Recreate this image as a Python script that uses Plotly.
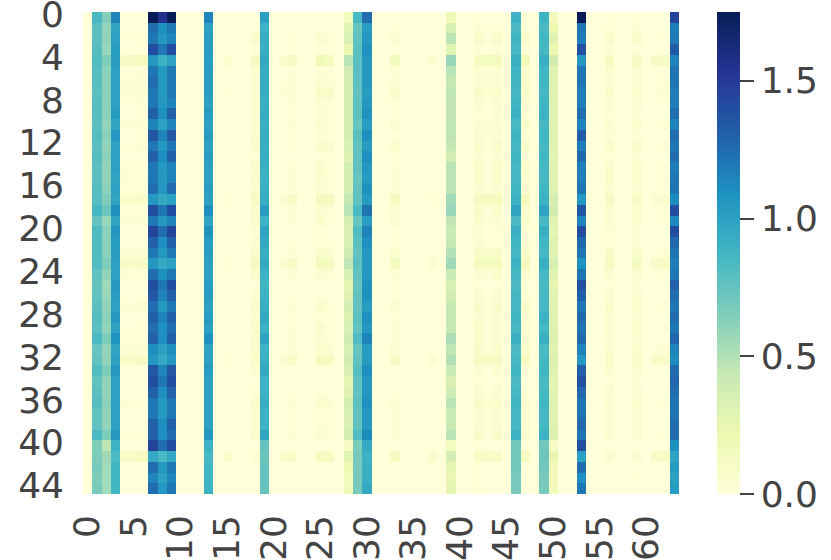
import plotly.graph_objects as go

# heatmap size
n_rows = 45
n_cols = 64

x_ticks = [0, 5, 10, 15, 20, 25, 30, 35, 40, 45, 50, 55, 60]
y_ticks = [0, 4, 8, 12, 16, 20, 24, 28, 32, 36, 40, 44]
cbar_ticks = [0.0, 0.5, 1.0, 1.5]

# values, one list per column (top row first), columns not listed are ~0
col_01 = [.85,.78,.78,.80,.82,.80,.80,.78,.80,.80,.78,.80,.78,.80,.78,.78,.80,.80,.86,.75,.83,.82,.82,.82,.77,.75,.76,.78,.80,.78,.84,.74,.76,.82,.76,.78,.80,.76,.76,.84,.66,.66,.68,.66,.68]
col_02 = [.64,.60,.60,.58,.66,.62,.62,.62,.62,.62,.60,.62,.60,.62,.60,.60,.62,.66,.72,.58,.62,.62,.62,.66,.60,.56,.58,.60,.62,.60,.66,.60,.60,.66,.60,.60,.62,.60,.60,.66,.46,.56,.55,.55,.55]
col_03 = [1.15,.98,1.0,1.03,1.02,1.0,1.0,1.0,1.0,1.03,.98,1.05,1.0,1.0,1.0,.98,1.0,.98,1.10,.98,1.06,1.03,1.02,1.0,1.0,1.05,1.02,1.0,1.05,1.0,1.08,.98,1.0,1.05,1.0,1.0,1.0,1.0,1.0,1.05,.90,.84,.87,.87,.87]
col_04 = [0,0,.02,0,.10,.01,.02,.04,.01,0,.02,0,.02,0,.02,.02,.01,.07,.01,.03,0,0,.04,.09,.02,0,0,.03,0,.01,.01,.03,.09,0,0,0,.03,0,0,.01,0,.10,0,0,0]
col_05 = [0,0,.02,0,.12,.01,.02,.04,.01,0,.02,0,.02,0,.01,.01,.01,.07,.01,.02,0,0,.03,.09,.01,0,0,.02,0,.01,.01,.04,.09,0,0,0,.01,0,0,.01,0,.10,0,0,0]
col_06 = [0,0,.03,0,.15,.02,.03,.05,.02,.01,.03,.01,.04,0,.03,.02,.02,.08,.02,.04,0,.01,.05,.11,.03,0,0,.04,0,.03,.02,.05,.12,0,0,0,.02,0,0,.01,0,.13,0,0,0]
col_07 = [1.75,1.25,1.20,1.40,1.05,1.20,1.25,1.20,1.20,1.30,1.15,1.35,1.20,1.30,1.20,1.20,1.25,1.05,1.40,1.20,1.45,1.30,1.20,1.05,1.25,1.40,1.35,1.25,1.30,1.25,1.30,1.10,1.05,1.35,1.40,1.30,1.20,1.20,1.30,1.30,1.45,.95,1.25,1.15,1.25]
col_08 = [1.55,1.10,1.05,1.20,.90,1.05,1.05,1.05,1.05,1.10,1.0,1.15,1.05,1.10,1.05,1.05,1.05,.95,1.20,1.05,1.25,1.10,1.05,.95,1.10,1.20,1.15,1.05,1.15,1.10,1.10,1.0,.95,1.15,1.20,1.10,1.05,1.05,1.10,1.10,1.25,.85,1.05,1.0,1.05]
col_09 = [1.75,1.20,1.15,1.40,1.0,1.20,1.20,1.20,1.15,1.30,1.15,1.35,1.20,1.30,1.15,1.15,1.25,1.0,1.40,1.15,1.45,1.30,1.20,1.0,1.20,1.40,1.30,1.20,1.30,1.25,1.30,1.10,1.05,1.35,1.40,1.30,1.20,1.20,1.30,1.25,1.40,.95,1.20,1.15,1.20]
col_13 = [1.15,1.0,1.02,1.02,1.03,1.02,1.02,1.02,1.0,1.03,1.0,1.03,1.0,1.02,1.0,1.0,1.02,1.0,1.10,.98,1.08,1.03,1.02,1.0,1.0,1.03,1.02,1.0,1.03,1.0,1.08,.98,1.0,1.03,1.0,1.0,1.0,1.0,1.0,1.05,.90,.85,.88,.88,.90]
col_15 = [0,0,0,0,.06,0,0,.01,0,0,0,0,0,0,0,0,0,.03,0,0,0,0,0,.03,0,0,0,0,0,0,0,0,.03,0,0,0,0,0,0,0,0,.07,0,0,0]
col_18 = [0,.02,.08,.02,.13,.06,.06,.06,.06,.06,.06,.06,.08,.03,.08,.07,.06,.11,.07,.08,.02,.05,.08,.13,.07,.01,.04,.08,.06,.08,.07,.07,.09,.04,.01,.03,.07,.06,.06,.07,0,.04,0,0,0]
col_19 = [1.0,.90,.93,.92,.95,.93,.93,.93,.92,.93,.92,.93,.92,.93,.92,.90,.92,.93,1.02,.90,.98,.95,.92,.95,.90,.88,.90,.92,.95,.90,.98,.90,.92,.95,.90,.90,.93,.90,.90,.97,.75,.73,.75,.75,.75]
col_21 = [0,0,0,0,.07,0,.01,.02,0,0,0,0,0,0,0,0,0,.05,0,0,0,0,0,.06,0,0,0,0,0,0,0,0,.05,0,0,0,0,0,0,0,0,.07,0,0,0]
col_22 = [0,0,.03,0,.12,.02,.02,.05,.02,.01,.03,.01,.02,0,.02,.02,.02,.10,.02,.03,0,.01,.03,.11,.02,0,0,.03,.01,.02,.02,.04,.10,0,0,.01,.03,.01,.01,.02,0,.09,0,0,0]
col_25 = [0,.01,.06,.01,.18,.03,.05,.10,.05,.03,.06,.03,.08,.02,.07,.06,.05,.15,.06,.07,.01,.03,.09,.16,.05,.01,.01,.07,.03,.07,.05,.06,.14,.02,0,.02,.07,.03,.03,.05,0,.14,0,0,0]
col_26 = [0,0,.03,0,.14,.02,.03,.08,.02,.01,.03,.01,.05,.01,.03,.03,.02,.13,.03,.02,0,.01,.06,.13,.02,0,0,.03,.01,.02,.02,.04,.12,0,0,0,.04,.01,.01,.02,0,.12,0,0,0]
col_28 = [.15,.28,.34,.23,.48,.38,.36,.36,.36,.36,.37,.37,.34,.30,.37,.37,.37,.44,.48,.36,.33,.34,.40,.46,.35,.26,.30,.36,.32,.34,.40,.35,.38,.33,.26,.30,.37,.34,.33,.37,.12,.28,.20,.17,.17]
col_29 = [.85,.74,.76,.78,.78,.78,.78,.76,.78,.78,.74,.78,.76,.76,.76,.74,.76,.76,.84,.74,.82,.78,.76,.78,.76,.74,.76,.76,.78,.76,.82,.74,.76,.80,.76,.76,.78,.76,.76,.82,.66,.68,.68,.68,.68]
col_30 = [1.25,1.02,1.05,1.08,1.05,1.05,1.05,1.03,1.05,1.08,1.02,1.10,1.03,1.10,1.05,1.03,1.08,1.03,1.22,1.02,1.15,1.08,1.05,1.05,1.05,1.08,1.08,1.03,1.08,1.05,1.15,1.03,1.03,1.10,1.05,1.05,1.08,1.05,1.05,1.12,.95,.90,.92,.92,.95]
col_33 = [0,.01,.05,0,.15,.03,.04,.07,.03,.01,.05,.01,.06,.01,.03,.03,.03,.13,.04,.05,.01,.01,.06,.14,.03,.01,.01,.05,.01,.04,.03,.05,.11,0,0,.01,.04,.02,.02,.02,0,.13,0,0,0]
col_37 = [0,0,0,0,.06,0,0,.01,0,0,0,0,0,0,0,0,0,.03,0,0,0,0,.01,.05,0,0,0,0,0,0,0,0,.05,0,0,0,0,0,0,0,0,.07,0,0,0]
col_39 = [.18,.34,.47,.28,.58,.48,.44,.46,.45,.45,.46,.46,.44,.38,.47,.47,.47,.55,.58,.45,.42,.44,.50,.56,.43,.34,.38,.44,.44,.44,.52,.46,.50,.42,.33,.40,.48,.42,.42,.48,.14,.36,.26,.24,.26]
col_42 = [.01,.04,.07,.02,.13,.05,.06,.08,.05,.03,.06,.04,.07,.05,.07,.07,.06,.13,.09,.07,.03,.05,.09,.15,.06,.02,.05,.08,.06,.07,.07,.08,.12,.05,.03,.06,.08,.06,.06,.08,.01,.10,.01,.02,.01]
col_43 = [0,.01,.02,0,.13,.02,.02,.04,.01,0,.02,.01,.03,0,.02,.02,.01,.13,.02,.03,0,.01,.07,.14,.02,0,.01,.03,.01,.02,.01,.03,.12,0,0,.01,.04,.01,.01,.02,0,.10,0,0,0]
col_44 = [0,.03,.08,.02,.15,.05,.05,.07,.05,.04,.06,.04,.08,.05,.07,.07,.06,.14,.07,.06,.03,.03,.09,.15,.07,.02,.05,.08,.06,.06,.06,.07,.12,.06,.02,.06,.07,.05,.05,.08,0,.10,0,.02,0]
col_46 = [.90,.84,.88,.86,.92,.88,.88,.86,.88,.90,.85,.88,.86,.88,.86,.86,.88,.90,.98,.84,.92,.88,.86,.90,.86,.84,.86,.86,.88,.86,.92,.84,.86,.88,.84,.86,.88,.86,.86,.90,.70,.70,.70,.68,.68]
col_47 = [.02,.02,.08,.02,.18,.06,.07,.08,.05,.03,.07,.03,.08,.03,.07,.06,.05,.15,.07,.07,.03,.04,.10,.16,.06,.02,.03,.07,.04,.06,.05,.07,.14,.03,0,.03,.06,.05,.05,.06,0,.14,0,0,0]
col_49 = [.90,.84,.88,.86,.92,.88,.88,.86,.88,.90,.85,.88,.86,.88,.86,.86,.88,.90,.98,.85,.92,.88,.86,.92,.86,.84,.86,.86,.90,.86,.92,.84,.86,.88,.84,.86,.88,.86,.86,.90,.70,.72,.70,.68,.68]
col_50 = [.14,.22,.30,.22,.38,.30,.30,.30,.30,.30,.30,.30,.30,.27,.30,.30,.30,.36,.38,.30,.27,.30,.30,.35,.30,.26,.28,.30,.30,.30,.32,.30,.32,.30,.27,.28,.30,.30,.30,.32,.10,.24,.17,.16,.16]
col_53 = [1.75,1.22,1.18,1.38,1.05,1.20,1.22,1.17,1.17,1.25,1.15,1.33,1.17,1.27,1.17,1.17,1.22,1.05,1.35,1.15,1.40,1.27,1.20,1.08,1.22,1.38,1.30,1.20,1.27,1.22,1.27,1.15,1.05,1.30,1.38,1.27,1.20,1.22,1.27,1.22,1.38,1.0,1.25,1.10,1.20]
col_56 = [.01,.03,.07,.02,.13,.05,.05,.07,.05,.03,.06,.03,.07,.03,.07,.07,.06,.11,.06,.06,.03,.03,.08,.13,.06,.02,.06,.07,.06,.06,.05,.06,.09,.06,.02,.05,.06,.05,.05,.06,0,.06,0,.01,0]
col_59 = [.01,.02,.07,.02,.12,.05,.05,.06,.05,.03,.06,.03,.07,.03,.06,.06,.05,.11,.06,.06,.03,.03,.07,.13,.05,.02,.05,.06,.05,.06,.05,.06,.09,.05,.02,.05,.06,.05,.05,.05,0,.05,0,.01,0]
col_61 = [0,0,.01,0,.10,.01,.01,.02,.01,0,.01,0,.01,0,.01,.01,.01,.05,.01,.01,0,0,.01,.08,.01,0,0,.01,0,.01,0,.02,.09,0,0,0,.01,0,0,.01,0,.10,0,0,0]
col_62 = [0,0,.01,0,.10,.01,.01,.04,.01,0,.01,0,.01,0,.01,.01,.01,.06,.01,.01,0,0,.03,.10,.01,0,0,.01,0,.01,0,.03,.09,0,0,0,.01,0,0,.01,0,.10,0,0,0]
col_63 = [1.45,1.17,1.20,1.33,1.15,1.22,1.22,1.18,1.18,1.25,1.15,1.25,1.20,1.25,1.18,1.20,1.22,1.12,1.40,1.13,1.40,1.27,1.22,1.18,1.20,1.30,1.25,1.20,1.25,1.20,1.28,1.15,1.12,1.25,1.28,1.25,1.22,1.22,1.25,1.25,1.08,.98,1.03,1.0,1.03]

columns = {1: col_01, 2: col_02, 3: col_03, 4: col_04, 5: col_05, 6: col_06, 7: col_07, 8: col_08, 9: col_09,
           13: col_13, 15: col_15, 18: col_18, 19: col_19, 21: col_21, 22: col_22, 25: col_25, 26: col_26,
           28: col_28, 29: col_29, 30: col_30, 33: col_33, 37: col_37, 39: col_39, 42: col_42, 43: col_43,
           44: col_44, 46: col_46, 47: col_47, 49: col_49, 50: col_50, 53: col_53, 56: col_56, 59: col_59,
           61: col_61, 62: col_62, 63: col_63}

z = [[0.0] * n_cols for _ in range(n_rows)]
for c, vals in columns.items():
    for r, v in enumerate(vals):
        z[r][c] = v

ylgnbu = [[0.0, "#ffffd9"], [0.125, "#edf8b1"], [0.25, "#c7e9b4"], [0.375, "#7fcdbb"], [0.5, "#41b6c4"],
          [0.625, "#1d91c0"], [0.75, "#225ea8"], [0.875, "#253494"], [1.0, "#081d58"]]

text_font = dict(family="DejaVu Sans", size=36, color="#444444")

fig = go.Figure(go.Heatmap(
    z=z,
    x=list(range(n_cols)),
    y=list(range(n_rows)),
    colorscale=ylgnbu,
    zmin=0,
    zmax=1.75,
    colorbar=dict(
        x=1.0637, xanchor="left", xref="paper",
        y=0, yanchor="bottom", yref="paper",
        len=1, lenmode="fraction",
        thickness=23, thicknessmode="pixels",
        outlinewidth=0, xpad=0, ypad=0,
        tickvals=cbar_ticks, ticktext=["0.0", "0.5", "1.0", "1.5"],
        ticks="outside", ticklen=14, tickwidth=2, tickcolor="#444444",
        tickfont=text_font,
    ),
))

fig.update_layout(
    width=831,
    height=560,
    margin=dict(l=83, r=152, t=12, b=66, pad=0),
    paper_bgcolor="white",
    plot_bgcolor="white",
    xaxis=dict(tickmode="array", tickvals=x_ticks, ticktext=[str(t) for t in x_ticks], tickangle=-90,
               tickfont=text_font, ticks="", showgrid=False, zeroline=False, showline=False,
               ticklabelstandoff=13, ticklabeloverflow="allow", automargin=False),
    yaxis=dict(tickmode="array", tickvals=y_ticks, ticktext=[str(t) for t in y_ticks], autorange="reversed",
               tickfont=text_font, ticks="", showgrid=False, zeroline=False, showline=False,
               ticklabelstandoff=18, ticklabelshift=3, ticklabeloverflow="allow", automargin=False),
)

# drop the page's default margin so the top label is not cut
fig.write_html("out.html", config={"displayModeBar": False},
               post_script="document.body.style.margin='0';document.body.style.overflow='hidden';")
